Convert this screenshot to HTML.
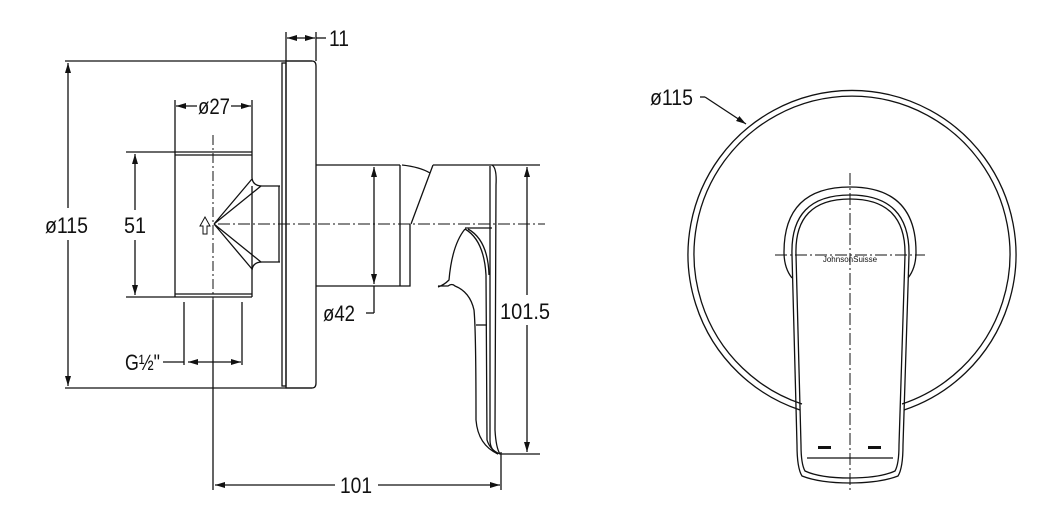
<!DOCTYPE html>
<html><head><meta charset="utf-8"><style>
html,body{margin:0;padding:0;background:#fff;}
svg{display:block}
text{font-family:"Liberation Sans Narrow","Liberation Sans",sans-serif;font-size:22px;fill:#111;}
</style></head><body>
<svg width="1063" height="532" viewBox="0 0 1063 532" xmlns="http://www.w3.org/2000/svg">
<defs>
<marker id="a" viewBox="0 0 10 6" refX="10" refY="3" markerWidth="10" markerHeight="6" orient="auto-start-reverse" markerUnits="userSpaceOnUse"><path d="M0,0L10,3L0,6z" fill="#111"/></marker>
</defs>
<g fill="none" stroke="#111" stroke-width="1.3">
<line x1="65" y1="61" x2="312" y2="61"/>
<line x1="65" y1="388" x2="312" y2="388"/>
<line x1="68" y1="63" x2="68" y2="208" marker-start="url(#a)"/>
<line x1="68" y1="240" x2="68" y2="386" marker-end="url(#a)"/>
<rect x="282" y="63" width="4" height="323"/>
<path d="M286,61 H312 Q316,61 316,66 V383 Q316,388 312,388 H286 Z"/>
<line x1="286" y1="32" x2="286" y2="61"/>
<line x1="316" y1="32" x2="316" y2="61"/>
<line x1="287" y1="38" x2="315" y2="38" marker-start="url(#a)" marker-end="url(#a)"/>
<line x1="316" y1="38" x2="326" y2="38"/>
<line x1="175" y1="100" x2="175" y2="152"/>
<line x1="252" y1="100" x2="252" y2="178"/>
<line x1="176" y1="106" x2="197" y2="106" marker-start="url(#a)"/>
<line x1="231" y1="106" x2="251" y2="106" marker-end="url(#a)"/>
<path d="M175,152 H252 M175,155 H252 M175,152 V297 M175,294 H252 M175,297 H252 M252,186 V297"/>
<path d="M252,178 Q253,186 262,186 H280 M252,270 Q253,262 262,262 H280 M279,186 V262"/>
<path d="M214,224 L252,179 M214,224 L261,186 M214,224 L252,269 M214,224 L261,262"/>
<path d="M203,234 V226 H200 L205,217 L210,226 H207 V234 Z" stroke-width="1"/>
<line x1="126" y1="152" x2="175" y2="152"/>
<line x1="126" y1="297" x2="175" y2="297"/>
<line x1="135" y1="154" x2="135" y2="210" marker-start="url(#a)"/>
<line x1="135" y1="240" x2="135" y2="295" marker-end="url(#a)"/>
<line x1="184" y1="302" x2="184" y2="365"/>
<line x1="242" y1="302" x2="242" y2="365"/>
<line x1="163" y1="362" x2="184" y2="362"/>
<line x1="188" y1="362" x2="241" y2="362" marker-start="url(#a)" marker-end="url(#a)"/>
<line x1="213" y1="135" x2="213" y2="300" stroke-dasharray="10,3,2,3" stroke-width="1"/>
<line x1="213" y1="300" x2="213" y2="490"/>
<line x1="218" y1="224" x2="545" y2="224" stroke-dasharray="12,3,2,3" stroke-width="1"/>
<line x1="215" y1="485" x2="335" y2="485" marker-start="url(#a)"/>
<line x1="378" y1="485" x2="500" y2="485" marker-end="url(#a)"/>
<line x1="501" y1="452" x2="501" y2="490"/>
<path d="M316,165 H400 M316,286 H400 M400,165 V286 M410,224 V286 H400"/>
<path d="M402,165 Q420,167 430,173 M433,165 L411,224 M433,165 H492"/>
<line x1="492" y1="165" x2="540" y2="165"/>
<path d="M492,165 Q497,168 496,185 L495,430 Q496,448 500,454 M490,166 L490,440 Q490,450 498,454 M465,228 H492"/>
<path d="M465,229 Q452,245 449,280 Q444,285 438,287 M438,286 H448 Q452,283 455,286 Q470,292 474,310 Q476,330 476,420 Q478,445 498,454"/>
<path d="M465,229 Q484,240 486,275 L487,440 Q490,450 500,454 M468,229 Q488,240 489,275"/>
<line x1="476" y1="325" x2="487" y2="325"/>
<line x1="374" y1="167" x2="374" y2="284" marker-start="url(#a)" marker-end="url(#a)"/>
<line x1="374" y1="286" x2="374" y2="313"/>
<line x1="366" y1="313" x2="374" y2="313"/>
<line x1="500" y1="454" x2="540" y2="454"/>
<line x1="527" y1="167" x2="527" y2="295" marker-start="url(#a)"/>
<line x1="527" y1="325" x2="527" y2="452" marker-end="url(#a)"/>
<path d="M800,410 A164,164 0 1 1 904,410"/>
<path d="M802,404 A158,158 0 1 1 902,404"/>
<line x1="705" y1="97" x2="746" y2="124" marker-end="url(#a)"/>
<line x1="700" y1="97" x2="705" y2="97"/>
<line x1="775" y1="255" x2="925" y2="255" stroke-dasharray="12,3,2,3" stroke-width="1"/>
<line x1="850" y1="173" x2="850" y2="490" stroke-dasharray="12,3,2,3" stroke-width="1"/>
<path d="M792,278 Q784,268 784,252 Q784,187 850,187 Q916,187 916,252 Q916,268 908,278"/>
<path d="M792,255 Q790,195 850,195 Q910,195 909,255 L903,445 Q903,468 898,476 Q880,483 850,483 Q820,483 802,476 Q797,468 797,445 Z"/>
<path d="M796,255 Q794,199 850,199 Q906,199 905,255 L899,445 Q899,464 895,471 Q880,478 850,478 Q820,478 805,471 Q801,464 801,445 Z"/>
<line x1="807" y1="458" x2="893" y2="458"/>
</g>
<rect x="818" y="446" width="13" height="3" fill="#111"/>
<rect x="868" y="446" width="13" height="3" fill="#111"/>
<text x="850" y="262" text-anchor="middle" style="font-size:8px">JohnsonSuisse</text>
<text x="45" y="233" textLength="43" lengthAdjust="spacingAndGlyphs">ø115</text>
<text x="124" y="233" textLength="22" lengthAdjust="spacingAndGlyphs">51</text>
<text x="198" y="114" textLength="32" lengthAdjust="spacingAndGlyphs">ø27</text>
<text x="329" y="46" textLength="20" lengthAdjust="spacingAndGlyphs">11</text>
<text x="125" y="370" textLength="35" lengthAdjust="spacingAndGlyphs">G½"</text>
<text x="323" y="321" textLength="32" lengthAdjust="spacingAndGlyphs">ø42</text>
<text x="500" y="319" textLength="50" lengthAdjust="spacingAndGlyphs">101.5</text>
<text x="340" y="493" textLength="32" lengthAdjust="spacingAndGlyphs">101</text>
<text x="650" y="105" textLength="43" lengthAdjust="spacingAndGlyphs">ø115</text>
</svg>
</body></html>
